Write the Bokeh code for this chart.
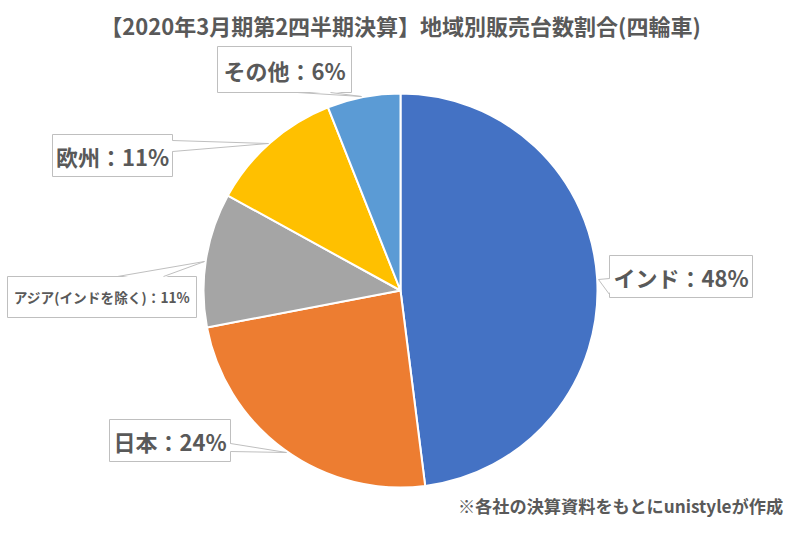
import numpy as np
from bokeh.plotting import figure
from bokeh.models import Range1d, ColumnDataSource
from bokeh.core.properties import value
from bokeh.embed import file_html
from bokeh.resources import INLINE

# ---- data ----
regions = ["インド", "日本", "アジア(インドを除く)", "欧州", "その他"]
shares = [48, 24, 11, 11, 6]
colors = ["#4472C4", "#ED7D31", "#A5A5A5", "#FFC000", "#5B9BD5"]
title_text = "【2020年3月期第2四半期決算】地域別販売台数割合(四輪車)"
note_text = "※各社の決算資料をもとにunistyleが作成"

W, H = 784, 517
FONT = "Noto Sans CJK JP"
TXT = "#595959"
BORDER = "#BFBFBF"

# reference-screen -> data coordinates (1:1)
def sx(X):
    return X

def sy(Y):
    return H - Y

p = figure(width=W, height=H, output_backend="svg", toolbar_location=None,
           x_range=Range1d(0, W), y_range=Range1d(0, H),
           x_axis_location=None, y_axis_location=None, min_border=0,
           outline_line_color=None, background_fill_color="white",
           border_fill_color="white")
p.grid.visible = False

# ---- pie ----
vals = np.array(shares, dtype=float)
frac = vals / vals.sum()
cum_end = np.cumsum(frac)
cum_start = cum_end - frac
src = ColumnDataSource(dict(
    region=regions, share=shares, color=colors,
    start=np.pi / 2 - 2 * np.pi * cum_end,
    end=np.pi / 2 - 2 * np.pi * cum_start,
))
p.wedge(x=sx(400), y=sy(290), radius=197, start_angle="start", end_angle="end",
        direction="anticlock", fill_color="color", line_color="white",
        line_width=2, source=src)

# ---- callout labels ----
callouts = [
    dict(i=4, box=(217, 46, 351, 92), ptr=[(297, 92), (361, 96), (330, 92)], d=(0, -1.5), fs=22),
    dict(i=3, box=(52, 134, 172, 176), ptr=[(172, 140), (268, 143), (172, 151)], d=(-1.5, 0), fs=22),
    dict(i=2, box=(7, 276, 196, 317), ptr=[(117, 276), (204, 261), (163, 276)], d=(0, 1.5), fs=13.7),
    dict(i=1, box=(109, 419, 230, 461), ptr=[(230, 443), (286, 452), (230, 451)], d=(-1.5, 0), fs=22),
    dict(i=0, box=(609, 255, 752, 297), ptr=[(609, 278), (598, 279), (609, 294)], d=(1.5, 0), fs=22),
]

for c in callouts:
    l, t, r, b = c["box"]
    p.quad(left=sx(l), right=sx(r), top=sy(t), bottom=sy(b),
           fill_color="white", line_color=BORDER, line_width=1)
    (x1, y1), (xt, yt), (x2, y2) = c["ptr"]
    dx, dy = c["d"]
    p.patch(x=[sx(x1 + dx), sx(xt), sx(x2 + dx)], y=[sy(y1 + dy), sy(yt), sy(y2 + dy)],
            fill_color="white", line_color=None)
    p.line(x=[sx(x1), sx(xt), sx(x2)], y=[sy(y1), sy(yt), sy(y2)],
           line_color=BORDER, line_width=1)
    label = f"{regions[c['i']]}：{shares[c['i']]}%"
    p.text(x=[sx((l + r) / 2)], y=[sy((t + b) / 2)], text=[label],
           text_font=value(FONT), text_font_style="bold",
           text_font_size=f"{c['fs']}px", text_color=TXT,
           text_align="center", text_baseline="middle")

# ---- title & footnote ----
p.text(x=[sx(405)], y=[sy(24)], text=[title_text], text_font=value(FONT),
       text_font_style="bold", text_font_size="22px", text_color=TXT,
       text_align="center", text_baseline="middle", x_offset=-5)
p.text(x=[sx(783)], y=[sy(505)], text=[note_text], text_font=value(FONT),
       text_font_style="bold", text_font_size="17.2px", text_color=TXT,
       text_align="right", text_baseline="middle")

open("out.html", "w").write(file_html(p, INLINE))
